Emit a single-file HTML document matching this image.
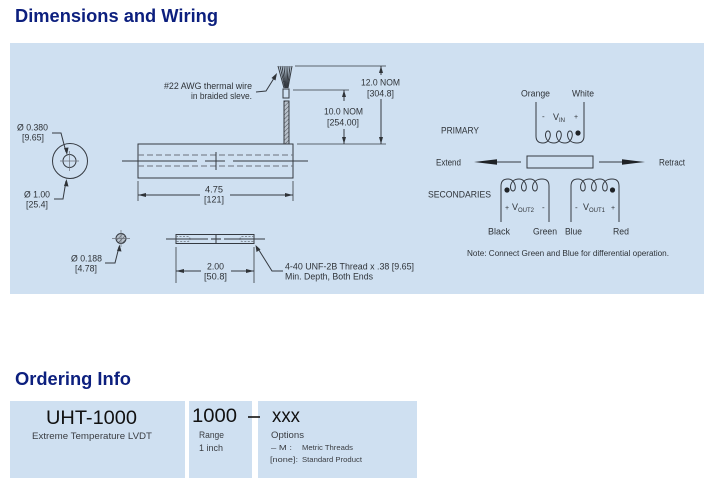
<!DOCTYPE html>
<html>
<head>
<meta charset="utf-8">
<style>
  html,body{margin:0;padding:0;background:#fff;}
  svg{display:block;}
  .t{font-family:"Liberation Sans",Arial,sans-serif;fill:#2f3338;}
  .c{font-family:"Liberation Sans",Arial,sans-serif;}
</style>
</head>
<body>
<svg width="716" height="486" viewBox="0 0 716 486" xmlns="http://www.w3.org/2000/svg">
  <defs>
    <pattern id="hatch" width="3" height="3" patternUnits="userSpaceOnUse" patternTransform="rotate(45)">
      <rect width="3" height="3" fill="#b9c2cc"/>
      <line x1="0" y1="0" x2="0" y2="3" stroke="#4a5058" stroke-width="1"/>
    </pattern>
  </defs>
  <rect x="0" y="0" width="716" height="486" fill="#ffffff"/>

  <!-- Titles -->
  <text class="c" x="15" y="22" font-size="18" font-weight="bold" fill="#0c1f7e" textLength="203" lengthAdjust="spacingAndGlyphs">Dimensions and Wiring</text>
  <text class="c" x="15" y="385" font-size="18" font-weight="bold" fill="#0c1f7e" textLength="116" lengthAdjust="spacingAndGlyphs">Ordering Info</text>

  <!-- Panel -->
  <rect x="10" y="43" width="694" height="251" fill="#cfe0f1"/>

  <g stroke="#353a41" stroke-width="1" fill="none">
    <!-- wire fan -->
    <line x1="278" y1="66" x2="284" y2="88"/>
    <line x1="280" y1="66" x2="285" y2="88"/>
    <line x1="282" y1="66" x2="285.5" y2="88"/>
    <line x1="284" y1="66" x2="286" y2="88"/>
    <line x1="286" y1="66" x2="286.5" y2="88"/>
    <line x1="288" y1="66" x2="287" y2="88"/>
    <line x1="290" y1="66" x2="287.5" y2="88"/>
    <line x1="292" y1="66" x2="288" y2="88"/>
    <rect x="283" y="89" width="6" height="9" fill="#cfe0f1"/>
    <rect x="284" y="101" width="5" height="43" fill="url(#hatch)"/>
    <!-- wire leader -->
    <polyline points="256,92 266,91 276,75"/>

    <!-- extension lines -->
    <line x1="295" y1="66" x2="386" y2="66" stroke-width="0.8"/>
    <line x1="293" y1="90" x2="349" y2="90" stroke-width="0.8"/>
    <line x1="297" y1="144" x2="386" y2="144" stroke-width="0.8"/>
    <!-- 12.0 dim -->
    <line x1="381" y1="66" x2="381" y2="75"/>
    <line x1="381" y1="99" x2="381" y2="144"/>
    <!-- 10.0 dim -->
    <line x1="344" y1="90" x2="344" y2="101"/>
    <line x1="344" y1="129" x2="344" y2="144"/>

    <!-- body -->
    <rect x="138" y="144" width="155" height="34"/>
    <line x1="138" y1="155" x2="293" y2="155" stroke-dasharray="6,3" stroke="#6b717a"/>
    <line x1="138" y1="166" x2="293" y2="166" stroke-dasharray="6,3" stroke="#6b717a"/>
    <line x1="122" y1="161" x2="197" y2="161" stroke-width="1.1"/>
    <line x1="205" y1="161" x2="225" y2="161" stroke-width="1.1"/>
    <line x1="233" y1="161" x2="308" y2="161" stroke-width="1.1"/>
    <line x1="216" y1="152" x2="216" y2="170"/>
    <!-- 4.75 dim -->
    <line x1="138" y1="181" x2="138" y2="201" stroke-width="0.8"/>
    <line x1="293" y1="181" x2="293" y2="201" stroke-width="0.8"/>
    <line x1="138" y1="195" x2="200" y2="195"/>
    <line x1="230" y1="195" x2="293" y2="195"/>

    <!-- end view circle -->
    <circle cx="70" cy="161" r="17.5"/>
    <circle cx="69.5" cy="161" r="6.5"/>
    <line x1="60" y1="161" x2="79" y2="161" stroke="#6b717a" stroke-width="0.7"/>
    <line x1="69.5" y1="151" x2="69.5" y2="171" stroke="#6b717a" stroke-width="0.7"/>
    <polyline points="52,133 61,133 66,152"/>
    <polyline points="54,199 63,199 66,181"/>

    <!-- small circle -->
    <circle cx="121" cy="238.5" r="5" fill="url(#hatch)"/>
    <line x1="112" y1="238.5" x2="130" y2="238.5" stroke="#6b717a" stroke-width="0.7"/>
    <line x1="121" y1="230" x2="121" y2="247" stroke="#6b717a" stroke-width="0.7"/>
    <polyline points="105,263 115,263 119,247"/>

    <!-- small rod -->
    <rect x="176" y="234.5" width="78" height="9"/>
    <path d="M176,236.5 H187 Q190,236.5 190,239 Q190,241.5 187,241.5 H176" stroke-dasharray="2,1.5" stroke="#6b717a" stroke-width="0.8"/>
    <path d="M254,236.5 H243 Q240,236.5 240,239 Q240,241.5 243,241.5 H254" stroke-dasharray="2,1.5" stroke="#6b717a" stroke-width="0.8"/>
    <line x1="166" y1="239" x2="208" y2="239" stroke-width="1.1"/>
    <line x1="211" y1="239" x2="221" y2="239" stroke-width="1.1"/>
    <line x1="224" y1="239" x2="265" y2="239" stroke-width="1.1"/>
    <line x1="216" y1="234" x2="216" y2="244"/>
    <!-- 2.00 dim -->
    <line x1="176" y1="247" x2="176" y2="283" stroke-width="0.8"/>
    <line x1="254" y1="247" x2="254" y2="283" stroke-width="0.8"/>
    <line x1="176" y1="271" x2="201" y2="271"/>
    <line x1="231" y1="271" x2="254" y2="271"/>
    <polyline points="257,247 272,271 283,271"/>
  </g>

  <!-- arrowheads -->
  <g fill="#2f3338">
    <polygon points="277,73 271.5,78 275.5,80.5"/>
    <polygon points="381,66 379,73 383,73"/>
    <polygon points="381,144 379,137 383,137"/>
    <polygon points="344,90 342,97 346,97"/>
    <polygon points="344,144 342,137 346,137"/>
    <polygon points="138,195 146,193 146,197"/>
    <polygon points="293,195 285,193 285,197"/>
    <polygon points="176,271 184,269 184,273"/>
    <polygon points="254,271 246,269 246,273"/>
    <polygon points="67,155 64,148 68.5,147.5"/>
    <polygon points="66.5,179 64,186 68.5,186.5"/>
    <polygon points="119.5,244.5 117,251 121.5,251.5"/>
    <polygon points="255.5,245 256.5,252 260.5,249.5"/>
  </g>

  <!-- left drawing labels -->
  <g class="t" font-size="9">
    <text x="164" y="89" textLength="88" lengthAdjust="spacingAndGlyphs">#22 AWG thermal wire</text>
    <text x="191" y="99" textLength="61" lengthAdjust="spacingAndGlyphs">in braided sleve.</text>
    <text x="361" y="85.5" textLength="39" lengthAdjust="spacingAndGlyphs">12.0 NOM</text>
    <text x="367" y="96.5" textLength="27" lengthAdjust="spacingAndGlyphs">[304.8]</text>
    <text x="324" y="114.5" textLength="39" lengthAdjust="spacingAndGlyphs">10.0 NOM</text>
    <text x="327" y="125.5" textLength="32" lengthAdjust="spacingAndGlyphs">[254.00]</text>
    <text x="17" y="130.5" textLength="31" lengthAdjust="spacingAndGlyphs">Ø 0.380</text>
    <text x="22" y="140.5" textLength="22" lengthAdjust="spacingAndGlyphs">[9.65]</text>
    <text x="24" y="197.5" textLength="26" lengthAdjust="spacingAndGlyphs">Ø 1.00</text>
    <text x="26" y="207.5" textLength="22" lengthAdjust="spacingAndGlyphs">[25.4]</text>
    <text x="205" y="192.5" textLength="18" lengthAdjust="spacingAndGlyphs">4.75</text>
    <text x="204" y="202.5" textLength="20" lengthAdjust="spacingAndGlyphs">[121]</text>
    <text x="71" y="261.5" textLength="31" lengthAdjust="spacingAndGlyphs">Ø 0.188</text>
    <text x="75" y="271.5" textLength="22" lengthAdjust="spacingAndGlyphs">[4.78]</text>
    <text x="207" y="269.5" textLength="17" lengthAdjust="spacingAndGlyphs">2.00</text>
    <text x="204" y="279.5" textLength="23" lengthAdjust="spacingAndGlyphs">[50.8]</text>
    <text x="285" y="269.5" textLength="129" lengthAdjust="spacingAndGlyphs">4-40 UNF-2B Thread x .38 [9.65]</text>
    <text x="285" y="279.5" textLength="88" lengthAdjust="spacingAndGlyphs">Min. Depth, Both Ends</text>
  </g>

  <!-- wiring diagram -->
  <g stroke="#353a41" stroke-width="1" fill="none">
    <!-- primary -->
    <path d="M536,102 V136 Q536,143 543,143
             C551,143 552,131 548,131 C544,131 544,143 554,143
             C562,143 563,131 559,131 C555,131 555,143 565,143
             C573,143 574,131 570,131 C566,131 566,143 577,143
             Q584,143 584,136 V102"/>
    <!-- left secondary -->
    <path d="M501,222 V186 Q501,179 508,179
             C516,179 517,191 513,191 C509,191 509,179 519,179
             C527,179 528,191 524,191 C520,191 520,179 530,179
             C538,179 539,191 535,191 C531,191 531,179 542,179
             Q549,179 549,186 V222"/>
    <!-- right secondary -->
    <path d="M571,222 V186 Q571,179 578,179
             C586,179 587,191 583,191 C579,191 579,179 589,179
             C597,179 598,191 594,191 C590,191 590,179 600,179
             C608,179 609,191 605,191 C601,191 601,179 612,179
             Q619,179 619,186 V222"/>
    <!-- core -->
    <rect x="527" y="156" width="66" height="12"/>
    <line x1="497" y1="162" x2="521" y2="162"/>
    <line x1="599" y1="162" x2="622" y2="162"/>
  </g>
  <g fill="#1f2226">
    <polygon points="474,162 497,159.3 497,164.7"/>
    <polygon points="645,162 622,159.3 622,164.7"/>
    <circle cx="578" cy="133" r="2.6"/>
    <circle cx="507" cy="190" r="2.6"/>
    <circle cx="612.5" cy="190" r="2.6"/>
  </g>
  <g class="t" font-size="9">
    <text x="521" y="96.5" textLength="29" lengthAdjust="spacingAndGlyphs">Orange</text>
    <text x="572" y="96.5" textLength="22" lengthAdjust="spacingAndGlyphs">White</text>
    <text x="441" y="133.5" textLength="38" lengthAdjust="spacingAndGlyphs">PRIMARY</text>
    <text x="436" y="165.5" textLength="25" lengthAdjust="spacingAndGlyphs">Extend</text>
    <text x="659" y="165.5" textLength="26" lengthAdjust="spacingAndGlyphs">Retract</text>
    <text x="428" y="197.5" textLength="63" lengthAdjust="spacingAndGlyphs">SECONDARIES</text>
    <text x="488" y="234.5" textLength="22" lengthAdjust="spacingAndGlyphs">Black</text>
    <text x="533" y="234.5" textLength="24" lengthAdjust="spacingAndGlyphs">Green</text>
    <text x="565" y="234.5" textLength="17" lengthAdjust="spacingAndGlyphs">Blue</text>
    <text x="613" y="234.5" textLength="16" lengthAdjust="spacingAndGlyphs">Red</text>
    <text x="467" y="256" font-size="8" textLength="202" lengthAdjust="spacingAndGlyphs">Note:  Connect Green and Blue for differential operation.</text>
    <!-- VIN -->
    <text x="542" y="119" font-size="8">-</text>
    <text x="553" y="120">V<tspan font-size="6" dy="2">IN</tspan></text>
    <text x="574" y="119" font-size="7">+</text>
    <!-- VOUT2 -->
    <text x="505" y="210" font-size="7">+</text>
    <text x="512" y="210">V<tspan font-size="6" dy="2">OUT2</tspan></text>
    <text x="542" y="210" font-size="8">-</text>
    <!-- VOUT1 -->
    <text x="575" y="210" font-size="8">-</text>
    <text x="583" y="210">V<tspan font-size="6" dy="2">OUT1</tspan></text>
    <text x="611" y="210" font-size="7">+</text>
  </g>

  <!-- Ordering boxes -->
  <rect x="10" y="401" width="175" height="77" fill="#cfe0f1"/>
  <rect x="189" y="401" width="63" height="77" fill="#cfe0f1"/>
  <rect x="258" y="401" width="159" height="77" fill="#cfe0f1"/>
  <g class="c" fill="#111">
    <text x="46" y="424" font-size="19" textLength="91" lengthAdjust="spacingAndGlyphs">UHT-1000</text>
    <text x="192" y="422" font-size="19" textLength="45" lengthAdjust="spacingAndGlyphs">1000</text>
    <text x="272" y="422" font-size="19" textLength="28" lengthAdjust="spacingAndGlyphs">xxx</text>
  </g>
  <line x1="248" y1="417" x2="260" y2="417" stroke="#111" stroke-width="1.6"/>
  <g class="c" fill="#3a3d42">
    <text x="32" y="439" font-size="9" textLength="120" lengthAdjust="spacingAndGlyphs">Extreme Temperature LVDT</text>
    <text x="199" y="438" font-size="9.5" textLength="25" lengthAdjust="spacingAndGlyphs">Range</text>
    <text x="199" y="451" font-size="9.5" textLength="24" lengthAdjust="spacingAndGlyphs">1 inch</text>
    <text x="271" y="438" font-size="9.5" textLength="33" lengthAdjust="spacingAndGlyphs">Options</text>
    <text x="271" y="450" font-size="7.5" textLength="21" lengthAdjust="spacingAndGlyphs">– M :</text>
    <text x="302" y="450" font-size="7.5" textLength="51" lengthAdjust="spacingAndGlyphs">Metric Threads</text>
    <text x="270" y="462" font-size="7.5" textLength="28" lengthAdjust="spacingAndGlyphs">[none]:</text>
    <text x="302" y="462" font-size="7.5" textLength="60" lengthAdjust="spacingAndGlyphs">Standard Product</text>
  </g>
</svg>
</body>
</html>
